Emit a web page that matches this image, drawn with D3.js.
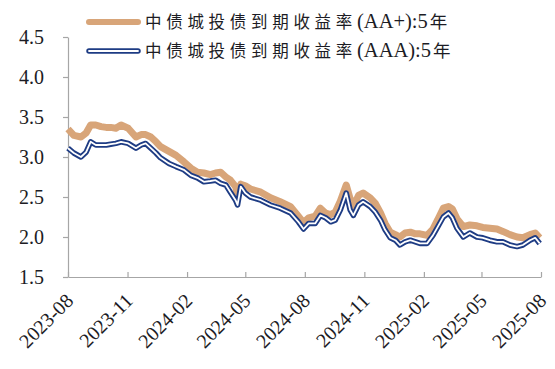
<!DOCTYPE html>
<html>
<head>
<meta charset="utf-8">
<script src="https://cdn.jsdelivr.net/npm/d3@7"></script>
<style>
  html, body { margin: 0; padding: 0; background: #fff; }
  svg { display: block; }
</style>
</head>
<body>
<div id="chart"></div>
<script>
// ---- Data ----
const seriesPrefix = "中债城投债到期收益率";
const seriesCodes = ["(AA+):5", "(AAA):5"];
const seriesSuffix = "年";
const dates = [
  "2023-08-01","2023-08-10","2023-08-21","2023-08-29","2023-09-05","2023-09-13","2023-09-21","2023-09-29",
  "2023-10-06","2023-10-14","2023-10-22","2023-11-02","2023-11-14","2023-11-22","2023-11-29","2023-12-07",
  "2023-12-15","2023-12-22","2024-01-04","2024-01-15","2024-01-27","2024-02-07","2024-02-17","2024-02-27",
  "2024-03-08","2024-03-16","2024-03-24","2024-04-01","2024-04-08","2024-04-16","2024-04-19","2024-04-24",
  "2024-05-01","2024-05-09","2024-05-25","2024-06-09","2024-06-24","2024-07-10","2024-07-22","2024-07-30",
  "2024-08-07","2024-08-17","2024-08-25","2024-09-02","2024-09-10","2024-09-17","2024-09-25","2024-10-04",
  "2024-10-10","2024-10-15","2024-10-23","2024-10-30","2024-11-10","2024-11-18","2024-11-26","2024-12-03",
  "2024-12-11","2024-12-19","2024-12-26","2025-01-03","2025-01-11","2025-01-19","2025-01-26","2025-02-06",
  "2025-02-15","2025-02-22","2025-03-03","2025-03-11","2025-03-17","2025-03-24","2025-04-03","2025-04-13",
  "2025-04-24","2025-05-03","2025-05-14","2025-05-25","2025-06-03","2025-06-14","2025-06-25","2025-07-04",
  "2025-07-15","2025-07-23","2025-07-30"
];
const aaPlus = [
  3.35,3.27,3.25,3.30,3.40,3.40,3.38,3.37,
  3.37,3.36,3.40,3.36,3.25,3.28,3.28,3.25,
  3.19,3.13,3.07,3.02,2.94,2.86,2.81,2.80,
  2.78,2.80,2.81,2.75,2.71,2.63,2.52,2.66,
  2.64,2.60,2.56,2.49,2.44,2.38,2.26,2.18,
  2.24,2.26,2.36,2.30,2.28,2.31,2.45,2.65,
  2.48,2.38,2.52,2.55,2.49,2.42,2.30,2.17,
  2.06,2.03,2.00,2.05,2.06,2.04,2.04,2.02,
  2.10,2.21,2.36,2.38,2.35,2.23,2.13,2.15,
  2.14,2.12,2.11,2.10,2.07,2.03,2.00,1.99,
  2.03,2.05,1.99
];
const aaa = [
  3.11,3.05,3.00,3.06,3.19,3.15,3.15,3.15,
  3.16,3.17,3.19,3.17,3.11,3.15,3.17,3.11,
  3.05,2.99,2.92,2.88,2.84,2.77,2.74,2.69,
  2.70,2.71,2.67,2.65,2.56,2.46,2.40,2.63,
  2.55,2.50,2.46,2.40,2.36,2.30,2.19,2.10,
  2.17,2.17,2.27,2.24,2.19,2.21,2.34,2.55,
  2.34,2.27,2.40,2.44,2.38,2.31,2.21,2.09,
  1.99,1.96,1.90,1.94,1.96,1.94,1.92,1.92,
  2.02,2.12,2.25,2.30,2.24,2.11,2.00,2.05,
  2.00,1.99,1.96,1.94,1.94,1.90,1.88,1.90,
  1.96,1.99,1.92
];
const yTicks = [1.5, 2.0, 2.5, 3.0, 3.5, 4.0, 4.5];
const xTickLabels = ["2023-08","2023-11","2024-02","2024-05","2024-08","2024-11","2025-02","2025-05","2025-08"];

// ---- Layout ----
const W = 555, H = 369;
const margin = { left: 68, right: 14, top: 37, bottom: 92 };
const tan = "#D8A579";
const navy = "#1E3C84";
const axisColor = "#A6A6A6";
const textColor = "#1c1c24";
const serif = "'Liberation Serif', 'Times New Roman', serif";
const cjk = "'Noto Sans CJK SC', sans-serif";

const parse = d3.timeParse("%Y-%m-%d");
const parseM = d3.timeParse("%Y-%m");
const data = dates.map((d, i) => ({ date: parse(d), a: aaPlus[i], b: aaa[i] }));

const svg = d3.select("#chart").append("svg").attr("width", W).attr("height", H);

const x = d3.scaleTime()
  .domain([parseM(xTickLabels[0]), parseM(xTickLabels[xTickLabels.length - 1])])
  .range([margin.left, W - margin.right]);
const y = d3.scaleLinear()
  .domain([yTicks[0], yTicks[yTicks.length - 1]])
  .range([H - margin.bottom, margin.top]);

// ---- Axes ----
const yAxis = d3.axisLeft(y).tickValues(yTicks).tickFormat(d3.format(".1f")).tickSize(5).tickPadding(19).tickSizeOuter(0);
const gy = svg.append("g").attr("transform", `translate(${margin.left},0)`).call(yAxis);
gy.select(".domain").attr("stroke", axisColor).attr("stroke-width", 1.2);
gy.selectAll(".tick line").attr("stroke", axisColor).attr("stroke-width", 1.2);
gy.selectAll(".tick text")
  .attr("fill", textColor)
  .style("font-family", serif)
  .style("font-size", "20px");

const xAxis = d3.axisBottom(x).tickValues(xTickLabels.map(parseM)).tickSize(-5).tickSizeOuter(0).tickFormat(d3.timeFormat("%Y-%m"));
const gx = svg.append("g").attr("transform", `translate(0,${H - margin.bottom})`).call(xAxis);
gx.select(".domain").attr("stroke", axisColor).attr("stroke-width", 1.2);
gx.selectAll(".tick line").attr("stroke", axisColor).attr("stroke-width", 1.2);
gx.selectAll(".tick text")
  .attr("fill", textColor)
  .style("font-family", serif)
  .style("font-size", "20px")
  .attr("text-anchor", "end")
  .attr("dy", null)
  .attr("y", null)
  .attr("transform", "translate(6,25) rotate(-45)");

// ---- Lines ----
const lineA = d3.line().x(d => x(d.date)).y(d => y(d.a)).curve(d3.curveLinear);
const lineB = d3.line().x(d => x(d.date)).y(d => y(d.b)).curve(d3.curveLinear);

svg.append("path").datum(data).attr("d", lineA)
  .attr("fill", "none").attr("stroke", tan).attr("stroke-width", 7)
  .attr("stroke-linejoin", "round").attr("stroke-linecap", "butt");

svg.append("path").datum(data).attr("d", lineB)
  .attr("fill", "none").attr("stroke", navy).attr("stroke-width", 5.5)
  .attr("stroke-linejoin", "round");
svg.append("path").datum(data).attr("d", lineB)
  .attr("fill", "none").attr("stroke", "#ffffff").attr("stroke-width", 1.8)
  .attr("stroke-linejoin", "round");

// ---- Legend ----
const legend = svg.append("g");
const legY = [22, 51];
legend.append("line").attr("x1", 89).attr("x2", 138).attr("y1", legY[0]).attr("y2", legY[0])
  .attr("stroke", tan).attr("stroke-width", 6).attr("stroke-linecap", "round");
legend.append("line").attr("x1", 89).attr("x2", 138).attr("y1", legY[1]).attr("y2", legY[1])
  .attr("stroke", navy).attr("stroke-width", 5.5).attr("stroke-linecap", "round");
legend.append("line").attr("x1", 89).attr("x2", 138).attr("y1", legY[1]).attr("y2", legY[1])
  .attr("stroke", "#fff").attr("stroke-width", 1.8).attr("stroke-linecap", "round");

seriesCodes.forEach((code, i) => {
  const t = legend.append("text")
    .attr("x", 145).attr("y", legY[i] + 6)
    .attr("fill", textColor);
  t.append("tspan")
    .style("font-family", cjk).style("font-size", "16.5px").style("letter-spacing", "4.7px")
    .text(seriesPrefix);
  t.append("tspan")
    .attr("dx", 0)
    .style("font-family", serif).style("font-size", "20.5px")
    .text(code);
  t.append("tspan")
    .attr("dx", 2)
    .style("font-family", cjk).style("font-size", "17.5px")
    .text(seriesSuffix);
});
</script>
</body>
</html>
